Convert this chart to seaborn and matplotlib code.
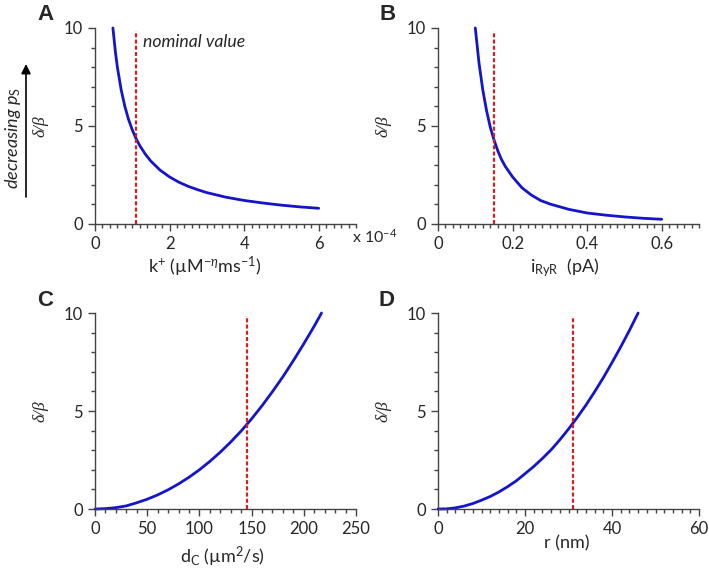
import matplotlib
matplotlib.use("Agg")
import matplotlib.pyplot as plt
from matplotlib.ticker import MultipleLocator, FuncFormatter
import seaborn as sns

# values
k_plus = [0.48, 0.55, 0.6, 0.7, 0.8, 0.9, 1.0, 1.1, 1.2, 1.35, 1.5, 1.75, 2.0,
          2.25, 2.5, 2.75, 3.0, 3.5, 4.0, 4.5, 5.0, 5.5, 6.0]
ratio_k = [10.0, 8.73, 8.0, 6.86, 6.0, 5.33, 4.8, 4.36, 4.0, 3.56, 3.2, 2.74, 2.4,
           2.13, 1.92, 1.75, 1.6, 1.37, 1.2, 1.07, 0.96, 0.87, 0.8]

i_ryr = [0.1, 0.11, 0.12, 0.13, 0.14, 0.15, 0.16, 0.17, 0.18, 0.2, 0.225, 0.25,
         0.275, 0.3, 0.35, 0.4, 0.45, 0.5, 0.55, 0.6]
ratio_i = [10.0, 8.2, 6.85, 5.8, 4.95, 4.3, 3.75, 3.3, 2.95, 2.4, 1.85, 1.48,
           1.2, 1.02, 0.75, 0.56, 0.45, 0.36, 0.29, 0.24]

d_c = [0, 10, 20, 30, 40, 50, 60, 70, 80, 90, 100, 110, 120, 130, 140, 150,
       160, 170, 180, 190, 200, 210, 217]
ratio_d = [0.0, 0.02, 0.07, 0.16, 0.32, 0.5, 0.72, 0.98, 1.28, 1.62, 2.0, 2.43,
           2.9, 3.42, 3.98, 4.6, 5.27, 5.99, 6.75, 7.57, 8.43, 9.33, 10.0]

r_nm = [0, 2, 4, 6, 8, 10, 12, 14, 16, 18, 20, 22, 24, 26, 28, 30, 32, 34, 36,
        38, 40, 42, 44, 46]
ratio_r = [0.0, 0.01, 0.06, 0.15, 0.28, 0.45, 0.64, 0.87, 1.14, 1.44, 1.8, 2.17,
           2.58, 3.02, 3.53, 4.08, 4.67, 5.3, 5.98, 6.7, 7.47, 8.27, 9.11, 10.0]

nominal = [1.1, 0.15, 146, 31]
letters = ["A", "B", "C", "D"]
xlabels = [r"k$^{+}$ (µM$^{-\eta}$ms$^{-1}$)", r"i$_{\mathrm{RyR}}$  (pA)",
           r"d$_{\mathrm{C}}$ (µm$^{2}$/s)", "r (nm)"]

sns.set_theme(style="ticks")
plt.rcParams["font.family"] = ["Lato", "DejaVu Sans"]
plt.rcParams["mathtext.fontset"] = "custom"
plt.rcParams["mathtext.rm"] = "Lato"
plt.rcParams["mathtext.it"] = "Lato:italic"
plt.rcParams["mathtext.bf"] = "Lato:bold"

blue = "#1414cc"
red = "#d42020"
spine_col = "#444444"

fig = plt.figure(figsize=(7.09, 5.74), dpi=100)
w, h = 0.3681, 0.3415
axes = [fig.add_axes([0.134, 0.6098, w, h]),
        fig.add_axes([0.6178, 0.6098, w, h]),
        fig.add_axes([0.134, 0.1132, w, h]),
        fig.add_axes([0.6178, 0.1132, w, h])]

curves = [(k_plus, ratio_k), (i_ryr, ratio_i), (d_c, ratio_d), (r_nm, ratio_r)]
xlims = [7, 0.7, 250, 60]
majors = [2, 0.2, 50, 20]
minors = [0.2, 0.02, 10, 2]
label_pos = [(0.42, -0.218), (0.487, -0.225), (0.49, -0.243), (0.495, -0.175)]
letter_pos = [(46, 15), (388, 15), (45, 300), (387, 300)]

for i, ax in enumerate(axes):
    x, y = curves[i]
    sns.lineplot(x=x, y=y, ax=ax, color=blue, lw=2, clip_on=False)
    ax.axvline(nominal[i], ymin=0, ymax=0.985, color=red, lw=1.6,
               linestyle=(0, (1.8, 1.0)))
    ax.set_xlim(0, xlims[i])
    ax.set_ylim(0, 10)
    ax.xaxis.set_major_locator(MultipleLocator(majors[i]))
    ax.xaxis.set_minor_locator(MultipleLocator(minors[i]))
    ax.xaxis.set_major_formatter(FuncFormatter(lambda v, _: f"{v:g}"))
    ax.yaxis.set_major_locator(MultipleLocator(5))
    ax.yaxis.set_minor_locator(MultipleLocator(1))
    ax.tick_params(which="major", length=5, width=1, color=spine_col,
                   labelsize=12, pad=3.5)
    ax.tick_params(which="minor", length=3, width=1, color=spine_col,
                   bottom=True, left=True)
    sns.despine(ax=ax)
    for s in ["left", "bottom"]:
        ax.spines[s].set_color(spine_col)
        ax.spines[s].set_linewidth(1)
    ax.set_ylabel("δ/β", fontfamily="Liberation Serif", fontstyle="italic",
                  fontsize=12.5)
    ax.yaxis.set_label_coords(-0.18, 0.5)
    ax.set_xlabel(xlabels[i], fontsize=13)
    ax.xaxis.label.set_verticalalignment("center")
    ax.xaxis.set_label_coords(*label_pos[i])
    fig.text(letter_pos[i][0] / 709, 1 - letter_pos[i][1] / 574, letters[i],
             fontsize=16, fontweight="bold", fontfamily="Liberation Sans",
             ha="center", va="center")

axes[0].text(1.3, 9.03, "nominal value", fontstyle="italic", fontsize=12.7,
             va="baseline")
axes[0].text(0.985, -0.066, r"x 10$^{-4}$", transform=axes[0].transAxes,
             fontsize=11.5, va="center", ha="left")

fig.text(13 / 709, 1 - 138 / 574, r"decreasing $\mathit{p}_{\mathrm{S}}$",
         rotation=90, fontstyle="italic", fontsize=13, ha="center", va="center")
axes[0].annotate("", xy=(26 / 709, 1 - 64 / 574), xytext=(26 / 709, 1 - 197 / 574),
                 xycoords="figure fraction", textcoords="figure fraction",
                 arrowprops=dict(arrowstyle="-|>", color="black", lw=1.2,
                                 mutation_scale=14, shrinkA=0, shrinkB=0))

fig.savefig("out.png", dpi=100)
